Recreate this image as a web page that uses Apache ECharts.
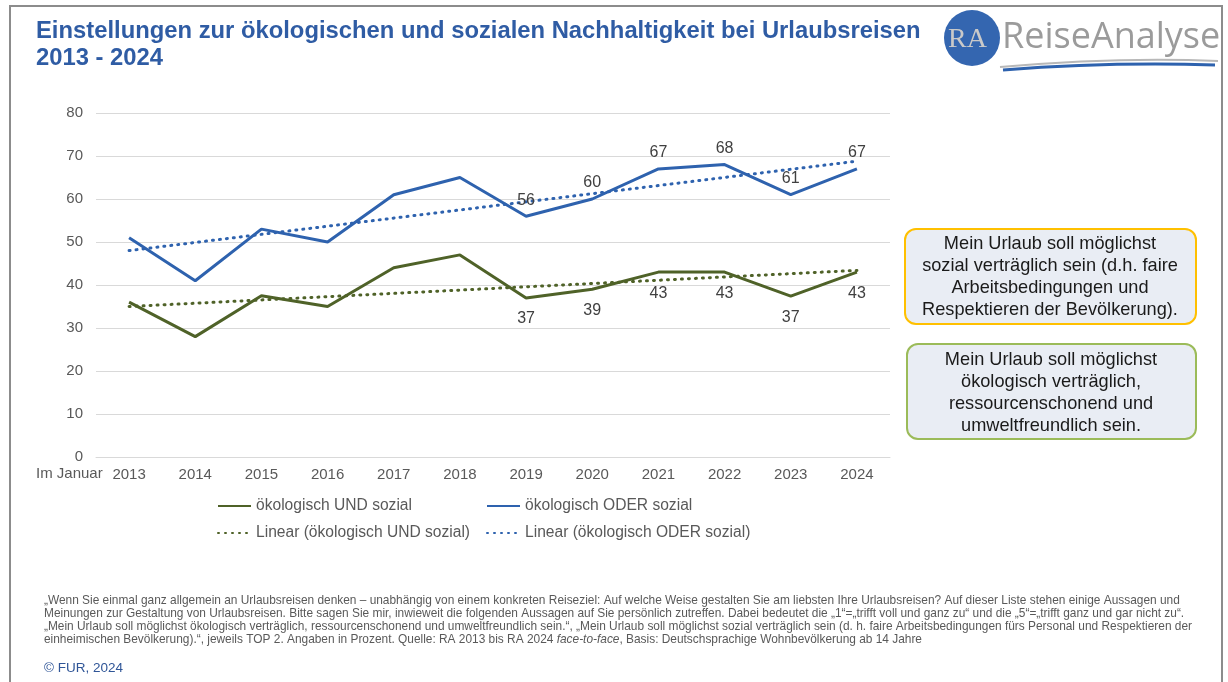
<!DOCTYPE html>
<html>
<head>
<meta charset="utf-8">
<script src="https://cdn.jsdelivr.net/npm/echarts@6/dist/echarts.min.js"></script>
<style>
  html, body { margin: 0; padding: 0; background: #fff; }
  #chart { width: 1228px; height: 682px; }
</style>
</head>
<body>
<div id="chart"></div>
<script>
// Daten (TOP 2 in Prozent)
const years = ['2013', '2014', '2015', '2016', '2017', '2018', '2019', '2020', '2021', '2022', '2023', '2024']
const undSozial = [36, 28, 37.5, 35, 44, 47, 37, 39, 43, 43, 37.4, 43]
const oderSozial = [51, 41, 53, 50, 61, 65, 56, 60, 67, 68, 61, 67]
// Trendlinien: Start- und Endwert (2013 / 2024)
const trendUnd = [35.0, 43.4]
const trendOder = [48.0, 68.8]
const yTicks = [0, 10, 20, 30, 40, 50, 60, 70, 80]
const labelFrom = 6 // Beschriftung ab 2019

const font = '"Liberation Sans", Arial, sans-serif'
const green = '#4f6228'
const blue = '#2e62ae'
const grey = '#595959'

function trendSeries (ends) {
  return years.map((y, i) => i === 0 ? ends[0] : (i === years.length - 1 ? ends[1] : null))
}

function valueLabel (pos, dist) {
  return {
    show: true,
    position: pos,
    distance: dist,
    color: '#404040',
    fontSize: 16,
    fontFamily: font,
    formatter: p => p.dataIndex >= labelFrom ? Math.round(p.value) : ''
  }
}

const legendBase = {
  itemWidth: 33,
  itemHeight: 14,
  padding: 0,
  orient: 'horizontal',
  itemStyle: { opacity: 0 },
  textStyle: { color: grey, fontSize: 15.6, fontFamily: font },
  selectedMode: false
}

const chart = echarts.init(document.getElementById('chart'))
const option = {
  animation: false,
  backgroundColor: '#ffffff',
  grid: { left: 96, right: 338, top: 113, bottom: 225 },
  legend: [
    Object.assign({ left: 217, top: 498, data: ['ökologisch UND sozial'] }, legendBase),
    Object.assign({ left: 486, top: 498, data: ['ökologisch ODER sozial'] }, legendBase),
    Object.assign({ left: 217, top: 525, data: ['Linear (ökologisch UND sozial)'] }, legendBase),
    Object.assign({ left: 486, top: 525, data: ['Linear (ökologisch ODER sozial)'] }, legendBase)
  ],
  xAxis: {
    type: 'category',
    data: years,
    boundaryGap: true,
    axisLine: { lineStyle: { color: '#d9d9d9' } },
    axisTick: { show: false },
    axisLabel: { color: grey, fontSize: 15, fontFamily: font, margin: 10 }
  },
  yAxis: {
    type: 'value',
    min: yTicks[0],
    max: yTicks[yTicks.length - 1],
    interval: yTicks[1] - yTicks[0],
    axisLine: { show: false },
    axisTick: { show: false },
    axisLabel: { color: grey, fontSize: 15, fontFamily: font, margin: 13 },
    splitLine: { lineStyle: { color: '#d9d9d9', width: 1 } }
  },
  series: [
    {
      name: 'ökologisch UND sozial',
      type: 'line',
      data: undSozial,
      symbol: 'circle',
      symbolSize: 0,
      color: green,
      lineStyle: { color: green, width: 3 },
      label: valueLabel('bottom', 13)
    },
    {
      name: 'ökologisch ODER sozial',
      type: 'line',
      data: oderSozial,
      symbol: 'circle',
      symbolSize: 0,
      color: blue,
      lineStyle: { color: blue, width: 3 },
      label: valueLabel('top', 8)
    },
    {
      name: 'Linear (ökologisch UND sozial)',
      type: 'line',
      data: trendSeries(trendUnd),
      connectNulls: true,
      symbol: 'none',
      color: green,
      lineStyle: { color: green, width: 3, type: [1, 6], cap: 'round' }
    },
    {
      name: 'Linear (ökologisch ODER sozial)',
      type: 'line',
      data: trendSeries(trendOder),
      connectNulls: true,
      symbol: 'none',
      color: blue,
      lineStyle: { color: blue, width: 3, type: [1, 6], cap: 'round' }
    }
  ],
  graphic: [
    // Rahmen
    {
      type: 'polyline',
      shape: { points: [[10, 682], [10, 6], [1222, 6], [1222, 682]] },
      style: { stroke: '#8c8c8c', lineWidth: 2, fill: null }
    },
    // Titel
    {
      type: 'text',
      left: 36,
      top: 18,
      style: {
        text: 'Einstellungen zur ökologischen und sozialen Nachhaltigkeit bei Urlaubsreisen\n2013 - 2024',
        fill: '#2f5ca4',
        font: 'bold 23.8px ' + font,
        lineHeight: 27
      }
    },
    // Logo
    {
      type: 'circle',
      shape: { cx: 972, cy: 38, r: 28 },
      style: { fill: '#3466b0' }
    },
    {
      type: 'text',
      x: 948,
      y: 40,
      style: {
        text: 'RA',
        fill: '#c9c9c9',
        font: '28px "Liberation Serif", serif',
        textVerticalAlign: 'middle'
      }
    },
    {
      type: 'text',
      x: 1002,
      y: 38,
      style: {
        text: 'ReiseAnalyse',
        fill: '#9b9b9b',
        font: '36px "Open Sans", sans-serif',
        textVerticalAlign: 'middle'
      }
    },
    {
      type: 'bezierCurve',
      shape: { x1: 1000, y1: 67, x2: 1218, y2: 61, cpx1: 1080, cpy1: 60, cpx2: 1150, cpy2: 58 },
      style: { stroke: '#b8b8b8', lineWidth: 2, fill: null }
    },
    {
      type: 'bezierCurve',
      shape: { x1: 1003, y1: 70, x2: 1215, y2: 65, cpx1: 1080, cpy1: 64, cpx2: 1150, cpy2: 63 },
      style: { stroke: blue, lineWidth: 3, fill: null }
    },
    // Achsenbeschriftung links
    {
      type: 'text',
      x: 36,
      y: 474,
      style: {
        text: 'Im Januar',
        fill: grey,
        font: '15px ' + font,
        textVerticalAlign: 'middle'
      }
    },
    // Infoboxen
    {
      type: 'rect',
      shape: { x: 905, y: 229, width: 291, height: 95, r: 11 },
      style: { fill: '#e9edf4', stroke: '#ffc000', lineWidth: 2 }
    },
    {
      type: 'text',
      x: 1050,
      y: 233,
      style: {
        text: 'Mein Urlaub soll möglichst\nsozial verträglich sein (d.h. faire\nArbeitsbedingungen und\nRespektieren der Bevölkerung).',
        fill: '#1a1a1a',
        font: '18.2px ' + font,
        lineHeight: 22,
        textAlign: 'center',
        textVerticalAlign: 'top'
      }
    },
    {
      type: 'rect',
      shape: { x: 907, y: 344, width: 289, height: 95, r: 11 },
      style: { fill: '#e9edf4', stroke: '#9bbb59', lineWidth: 2 }
    },
    {
      type: 'text',
      x: 1051,
      y: 349,
      style: {
        text: 'Mein Urlaub soll möglichst\nökologisch verträglich,\nressourcenschonend und\numweltfreundlich sein.',
        fill: '#1a1a1a',
        font: '18.2px ' + font,
        lineHeight: 22,
        textAlign: 'center',
        textVerticalAlign: 'top'
      }
    },
    // Fußnote
    {
      type: 'text',
      x: 44,
      y: 594,
      style: {
        text: '„Wenn Sie einmal ganz allgemein an Urlaubsreisen denken – unabhängig von einem konkreten Reiseziel: Auf welche Weise gestalten Sie am liebsten Ihre Urlaubsreisen? Auf dieser Liste stehen einige Aussagen und\n' +
          'Meinungen zur Gestaltung von Urlaubsreisen. Bitte sagen Sie mir, inwieweit die folgenden Aussagen auf Sie persönlich zutreffen. Dabei bedeutet die „1“=„trifft voll und ganz zu“ und die „5“=„trifft ganz und gar nicht zu“.\n' +
          '„Mein Urlaub soll möglichst ökologisch verträglich, ressourcenschonend und umweltfreundlich sein.“, „Mein Urlaub soll möglichst sozial verträglich sein (d. h. faire Arbeitsbedingungen fürs Personal und Respektieren der\n' +
          'einheimischen Bevölkerung).“, jeweils TOP 2. Angaben in Prozent. Quelle: RA 2013 bis RA 2024 {i|face-to-face}, Basis: Deutschsprachige Wohnbevölkerung ab 14 Jahre',
        fill: grey,
        font: '11.9px ' + font,
        lineHeight: 13,
        rich: {
          i: { fontStyle: 'italic', fontSize: 11.9, fontFamily: font, fill: grey }
        }
      }
    },
    {
      type: 'text',
      x: 44,
      y: 668,
      style: {
        text: '© FUR, 2024',
        fill: '#2f5597',
        font: '13.5px ' + font,
        textVerticalAlign: 'middle'
      }
    }
  ]
}
chart.setOption(option)
</script>
</body>
</html>
